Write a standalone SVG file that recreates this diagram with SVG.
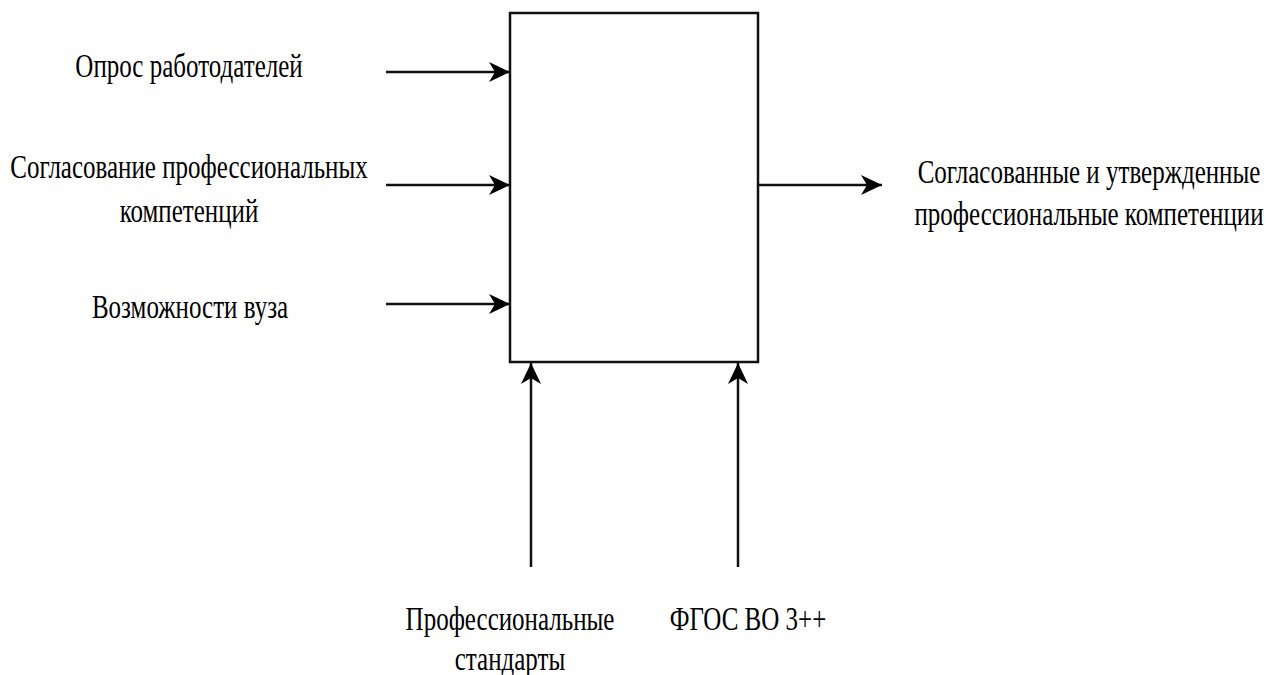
<svg xmlns="http://www.w3.org/2000/svg" width="1266" height="675" viewBox="0 0 1266 675">
<style>
.lbl{font-family:"Liberation Serif","Times New Roman",serif;font-size:25px;fill:#000;text-anchor:middle}
.ln{stroke:#111;stroke-width:2.5;fill:none}
.box{fill:#fff;stroke:#111;stroke-width:2.5}
</style>
<defs>
<marker id="ah" markerWidth="22" markerHeight="22" viewBox="0 0 22 22" refX="21" refY="11" orient="auto" markerUnits="userSpaceOnUse">
<path d="M0,1 L21,11 L0,21 L6,11 Z" fill="#000"/>
</marker>
</defs>
<rect width="1266" height="675" fill="#fff"/>
<g id="process">
<rect class="box" x="510" y="13" width="248" height="349"/>
</g>
<g id="connectors">
<line class="ln" x1="386" y1="72" x2="510" y2="72" marker-end="url(#ah)"/>
<line class="ln" x1="386" y1="185" x2="510" y2="185" marker-end="url(#ah)"/>
<line class="ln" x1="386" y1="304" x2="510" y2="304" marker-end="url(#ah)"/>
<line class="ln" x1="758" y1="185" x2="882" y2="185" marker-end="url(#ah)"/>
<line class="ln" x1="531" y1="567" x2="531" y2="363" marker-end="url(#ah)"/>
<line class="ln" x1="738" y1="567" x2="738" y2="363" marker-end="url(#ah)"/>
</g>
<g id="input1">
<text class="lbl" transform="translate(189,77) scale(1,1.33)">Опрос работодателей</text>
</g>
<g id="input2">
<text class="lbl" transform="translate(189,178) scale(1,1.33)">Согласование профессиональных</text>
<text class="lbl" transform="translate(189,222) scale(1,1.33)">компетенций</text>
</g>
<g id="input3">
<text class="lbl" transform="translate(190,318) scale(1,1.33)">Возможности вуза</text>
</g>
<g id="output">
<text class="lbl" transform="translate(1089,183) scale(1,1.33)">Согласованные и утвержденные</text>
<text class="lbl" transform="translate(1089,225) scale(1,1.33)">профессиональные компетенции</text>
</g>
<g id="control1">
<text class="lbl" transform="translate(510,630) scale(1,1.33)">Профессиональные</text>
<text class="lbl" transform="translate(510,670) scale(1,1.33)">стандарты</text>
</g>
<g id="control2">
<text class="lbl" transform="translate(748,630) scale(1,1.33)">ФГОС ВО 3++</text>
</g>
</svg>
